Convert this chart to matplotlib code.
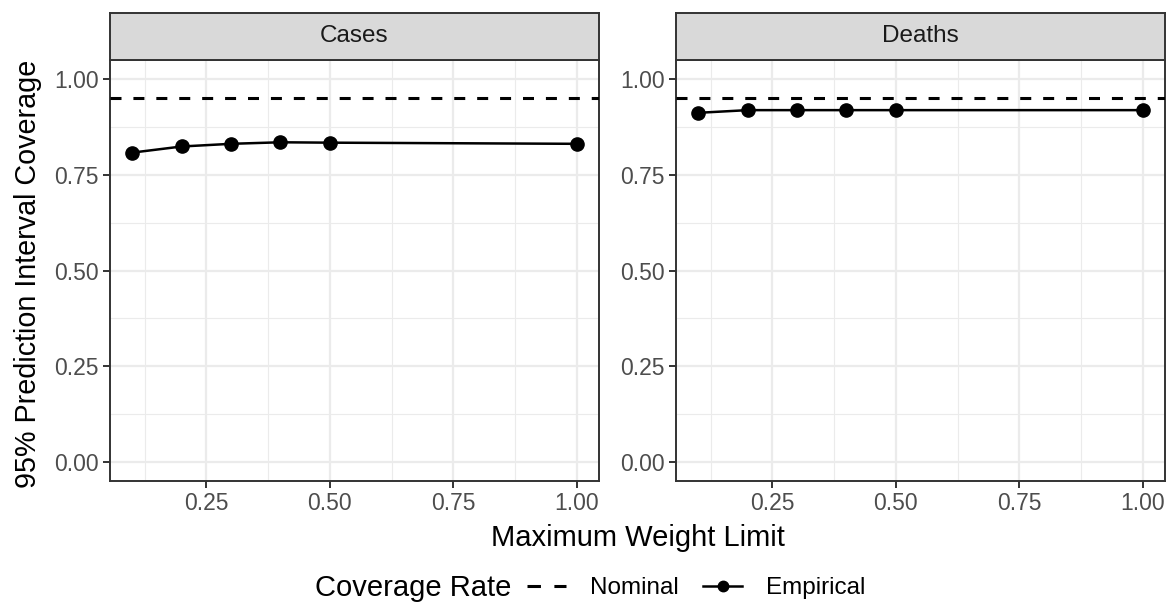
import matplotlib
matplotlib.use("Agg")
import matplotlib.pyplot as plt
from matplotlib.lines import Line2D

plt.rcParams['font.family'] = ['Liberation Sans', 'DejaVu Sans']

weight_limits = [0.1, 0.2, 0.3, 0.4, 0.5, 1.0]
cases_coverage = [0.808, 0.824, 0.831, 0.835, 0.834, 0.831]
deaths_coverage = [0.912, 0.919, 0.919, 0.919, 0.919, 0.919]
nominal = 0.95
panels = ["Cases", "Deaths"]
series = [cases_coverage, deaths_coverage]
x_ticks = [0.25, 0.50, 0.75, 1.00]
x_minor = [0.125, 0.375, 0.625, 0.875]
y_ticks = [0.00, 0.25, 0.50, 0.75, 1.00]
y_minor = [0.125, 0.375, 0.625, 0.875]

W, H = 1176, 605
fig = plt.figure(figsize=(W / 100, H / 100), dpi=100)

panel_left = [110, 676]
panel_w = 489
panel_top, panel_bot = 60, 481
strip_top = 13

grey_text = '#4d4d4d'
dash = (0, (3.6, 3.9))
for i, (name, vals) in enumerate(zip(panels, series)):
    l = panel_left[i]
    ax = fig.add_axes([l / W, 1 - panel_bot / H, panel_w / W, (panel_bot - panel_top) / H])
    ax.set_xlim(0.055, 1.045)
    ax.set_ylim(-0.05, 1.05)
    ax.set_xticks(x_ticks)
    ax.set_xticklabels([f"{v:.2f}" for v in x_ticks])
    ax.set_yticks(y_ticks)
    ax.set_yticklabels([f"{v:.2f}" for v in y_ticks])
    ax.set_xticks(x_minor, minor=True)
    ax.set_yticks(y_minor, minor=True)
    ax.grid(True, which='major', color='#ebebeb', lw=1.6)
    ax.grid(True, which='minor', color='#ebebeb', lw=0.8)
    ax.set_axisbelow(True)
    ax.tick_params(which='minor', length=0)
    ax.tick_params(which='major', length=5, width=1.4, color='#333333',
                   labelsize=16.5, labelcolor=grey_text, pad=3)
    for s in ax.spines.values():
        s.set_color('#333333')
        s.set_linewidth(1.4)
    ax.axhline(nominal, color='black', lw=2.2, ls=dash, zorder=3)
    ax.plot(weight_limits, vals, color='black', lw=1.8, marker='o', ms=9.5, zorder=4)

    sax = fig.add_axes([l / W, 1 - panel_top / H, panel_w / W, (panel_top - strip_top) / H])
    sax.set_xlim(0, 1); sax.set_ylim(0, 1)
    sax.set_xticks([]); sax.set_yticks([])
    sax.set_facecolor('#d9d9d9')
    for s in sax.spines.values():
        s.set_color('#333333')
        s.set_linewidth(1.4)
    sax.text(0.5, 0.5, name, ha='center', va='center', fontsize=17.5, color='#1a1a1a')

fig.text(638 / W, 1 - 538 / H, "Maximum Weight Limit", ha='center', va='center', fontsize=21)
fig.text(28 / W, 1 - 274 / H, "95% Prediction Interval Coverage", ha='center', va='center',
         rotation=90, fontsize=20.7)

fig.text(413 / W, 1 - 588 / H, "Coverage Rate", ha='center', va='center', fontsize=21)
handles = [Line2D([], [], color='black', lw=2.2, ls=(0, (4.4, 4.4))),
           Line2D([], [], color='black', lw=1.8, marker='o', ms=7.5)]
fig.legend(handles, ["Nominal", "Empirical"], loc='center left',
           bbox_to_anchor=(527 / W, 1 - 588 / H), ncol=2, frameon=False,
           fontsize=17.5, handlelength=1.6, handletextpad=1.0, columnspacing=1.0,
           borderaxespad=0, borderpad=0)

fig.savefig("out.png", dpi=100)
